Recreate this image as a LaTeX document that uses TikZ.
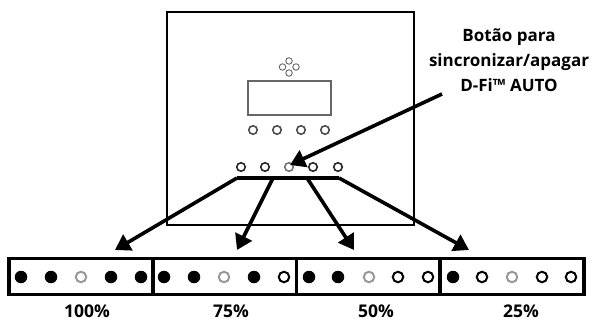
\documentclass[tikz,border=0pt]{standalone}
\usepackage{fontspec}
\setmainfont{Open Sans}
\usetikzlibrary{arrows.meta}
\tikzset{
 x=1pt,y=-1pt,
 ring/.style={circle,draw=#1,line width=1.6pt,fill=white,minimum size=8.5pt,inner sep=0pt},
 ring/.default=black!85,
 full/.style={circle,fill=black,minimum size=12.5pt,inner sep=0pt},
 dim/.style={circle,draw=black!40,line width=2pt,fill=white,minimum size=10.5pt,inner sep=0pt},
 open/.style={circle,draw=black,line width=2pt,fill=white,minimum size=10.5pt,inner sep=0pt},
 tiny/.style={circle,draw=black!60,line width=.9pt,minimum size=6.5pt,inner sep=0pt},
 arr/.style={line width=3.6pt,-{Triangle[length=15pt,width=18pt]}},
 cell/.style={draw=black,line width=3.4pt,minimum height=36pt,inner sep=0pt},
 lbl/.style={font=\bfseries\fontsize{17.5pt}{21pt}\selectfont,inner sep=0pt},
}
\begin{document}
\begin{tikzpicture}
\useasboundingbox (0,0) rectangle (596,320);
\node[draw=black,line width=1.1pt,minimum width=247pt,minimum height=213pt,inner sep=0pt] (panel) at (290.5,118.5) {};
\node[draw=black!60,line width=1.8pt,minimum width=83pt,minimum height=34pt,inner sep=0pt] (display) at (289.5,98) {};
\foreach \n/\x/\y in {ct/289/61,cb/289/73,cl/282.5/67,cr/296/67}
  \node[tiny] (\n) at (\x,\y) {};
\foreach \i/\x in {1/253,2/277,3/301,4/325}
  \node[ring=black!70] (m\i) at (\x,130) {};
\foreach \i/\x in {1/241,2/265,4/313,5/338}
  \node[ring] (b\i) at (\x,167) {};
\node[ring=black!55] (b3) at (289,167) {};
\coordinate (barL) at (237,178);
\coordinate (barR) at (339,178);
\coordinate (bar2) at (273,178);
\coordinate (bar3) at (307,178);
\draw[line width=3.8pt] (barL) -- (barR);
\node[cell,minimum width=144pt] (s1) at (81,276.5) {};
\node[cell,minimum width=144pt] (s2) at (224.7,276.5) {};
\node[cell,minimum width=143.5pt] (s3) at (368.4,276.5) {};
\node[cell,minimum width=144pt] (s4) at (512,276.5) {};
\foreach \n/\x/\k in {a1/21/full,a2/51/full,a3/81/dim,a4/111/full,a5/141/full,
 c1/164/full,c2/194/full,c3/224/dim,c4/254/full,c5/284/open,
 d1/309/full,d2/338/full,d3/369/dim,d4/398/open,d5/428/open,
 e1/453/full,e2/482/open,e3/512/dim,e4/542/open,e5/571/open}
  \node[\k] (\n) at (\x,277) {};
\node[lbl] (p1) at (87,311) {100\%};
\node[lbl] (p2) at (231,311) {75\%};
\node[lbl] (p3) at (376,311) {50\%};
\node[lbl] (p4) at (521,311) {25\%};
\node[lbl,align=center,font=\bfseries\fontsize{17pt}{25pt}\selectfont] (cap) at (509,60) {Botão para\\sincronizar/apagar\\D-Fi™ AUTO};
\coordinate (t1) at (115,250);
\coordinate (t2) at (237,250);
\coordinate (t3) at (354,250);
\coordinate (t4) at (469,250);
\coordinate (capS) at (442,94);
\coordinate (capT) at (290,165);
\draw[arr] (barL) -- (t1);
\draw[arr] (bar2) -- (t2);
\draw[arr] (bar3) -- (t3);
\draw[arr] (barR) -- (t4);
\draw[arr] (capS) -- (capT);
\end{tikzpicture}
\end{document}
